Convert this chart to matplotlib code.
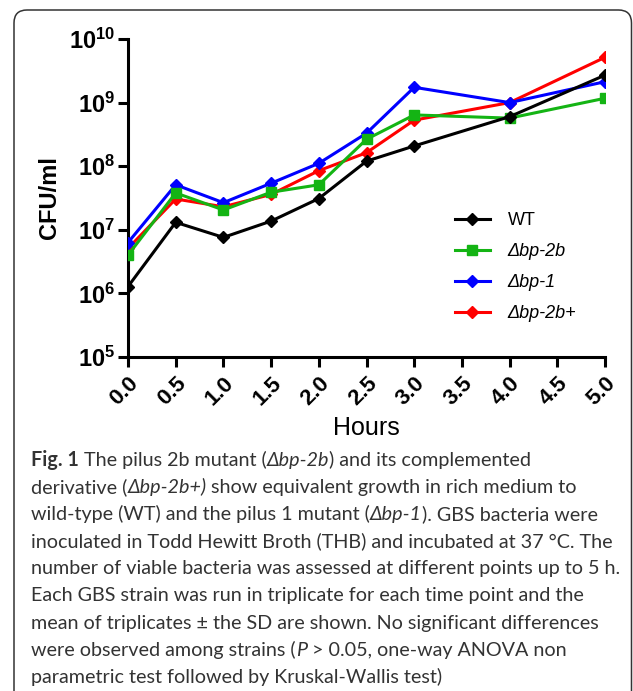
import numpy as np
import matplotlib
matplotlib.use('Agg')
import matplotlib.pyplot as plt
from matplotlib.patches import FancyBboxPatch
from matplotlib.transforms import IdentityTransform
from matplotlib.ticker import FixedLocator, FuncFormatter, NullLocator

# ---------- Data ----------

hours = [0.0, 0.5, 1.0, 1.5, 2.0, 2.5, 3.0, 4.0, 5.0]
wt = [1.28e6, 1.31e7, 7.6e6, 1.37e7, 3.1e7, 1.2e8, 2.08e8, 6.0e8, 2.7e9]
bp2b = [4.0e6, 3.8e7, 2.05e7, 3.9e7, 5.1e7, 2.65e8, 6.4e8, 5.7e8, 1.17e9]
bp1 = [6.3e6, 5.1e7, 2.67e7, 5.4e7, 1.11e8, 3.3e8, 1.74e9, 1.0e9, 2.13e9]
bp2b_plus = [5.1e6, 3.05e7, 2.3e7, 3.6e7, 8.5e7, 1.63e8, 5.3e8, 1.0e9, 5.15e9]

labels = ['WT', 'Δbp-2b', 'Δbp-1', 'Δbp-2b+']
x_ticks = [0.0, 0.5, 1.0, 1.5, 2.0, 2.5, 3.0, 3.5, 4.0, 4.5, 5.0]
y_ticks = [1e5, 1e6, 1e7, 1e8, 1e9, 1e10]

caption = [
    [("Fig. 1", 'b'), (" The pilus 2b mutant (", 'n'), ("Δbp-2b", 'i'), (") and its complemented", 'n')],
    [("derivative (", 'n'), ("Δbp-2b+)", 'i'), (" show equivalent growth in rich medium to", 'n')],
    [("wild-type (WT) and the pilus 1 mutant (", 'n'), ("Δbp-1", 'i'), ("). GBS bacteria were", 'n')],
    [("inoculated in Todd Hewitt Broth (THB) and incubated at 37 °C. The", 'n')],
    [("number of viable bacteria was assessed at different points up to 5 h.", 'n')],
    [("Each GBS strain was run in triplicate for each time point and the", 'n')],
    [("mean of triplicates ± the SD are shown. No significant differences", 'n')],
    [("were observed among strains (", 'n'), ("P", 'i'), (" > 0.05, one-way ANOVA non", 'n')],
    [("parametric test followed by Kruskal-Wallis test)", 'n')],
]

# ---------- Style ----------

plt.rcParams['font.family'] = ['Liberation Sans', 'DejaVu Sans']
plt.rcParams['mathtext.fontset'] = 'custom'
plt.rcParams['mathtext.rm'] = 'Liberation Sans'
plt.rcParams['mathtext.bf'] = 'Liberation Sans:bold'
plt.rcParams['mathtext.it'] = 'Liberation Sans:italic'

W, H = 633, 691
fig = plt.figure(figsize=(W / 100, H / 100), dpi=100)

# rounded frame around the figure + caption (open at the bottom)
frame = FancyBboxPatch((0.14, -0.5), 6.175, 6.81 + 0.5,
                       boxstyle='round,pad=0,rounding_size=0.13',
                       transform=fig.dpi_scale_trans, fill=False,
                       edgecolor='#333333', linewidth=1.1)
fig.add_artist(frame)

ax = fig.add_axes([128 / W, 1 - 357 / H, (605 - 128) / W, (357 - 39) / H])

lw = 2.2
ax.plot(hours, bp2b_plus, color='#ff0000', lw=lw, marker='D', ms=6.5, label=labels[3], zorder=3)
ax.plot(hours, bp1, color='#0000ff', lw=lw, marker='D', ms=6.5, label=labels[2], zorder=4)
ax.plot(hours, bp2b, color='#14b414', lw=lw, marker='s', ms=7.5, label=labels[1], zorder=5)
ax.plot(hours, wt, color='black', lw=lw, marker='D', ms=6.5, label=labels[0], zorder=6)

ax.set_yscale('log')
ax.set_ylim(1e5, 1e10)
ax.set_xlim(0, 5)
ax.yaxis.set_major_locator(FixedLocator(y_ticks))
ax.yaxis.set_minor_locator(NullLocator())
ax.yaxis.set_major_formatter(FuncFormatter(lambda v, p: r'$\mathbf{10^{%d}}$' % round(np.log10(v))))
ax.set_xticks(x_ticks)
ax.set_xticklabels(['%.1f' % t for t in x_ticks], rotation=45, ha='right', va='top',
                   rotation_mode='anchor', fontweight='bold')

for s in ['top', 'right']:
    ax.spines[s].set_visible(False)
for s in ['left', 'bottom']:
    ax.spines[s].set_linewidth(lw)
ax.tick_params(direction='out', length=7, width=lw, pad=2)
ax.tick_params(axis='y', labelsize=17)
ax.tick_params(axis='x', labelsize=16, pad=4)
for t in ax.get_yticklabels():
    t.set_fontweight('bold')

ax.set_ylabel('CFU/ml', fontsize=17, fontweight='bold')
ax.yaxis.set_label_coords(-0.14, 0.5)
ax.set_xlabel('Hours', fontsize=18)
ax.xaxis.set_label_coords(0.5, -0.185)

handles, labs = ax.get_legend_handles_labels()
order = [3, 2, 1, 0]
leg = ax.legend([handles[i] for i in order], [labs[i] for i in order],
                loc='center left', bbox_to_anchor=(0.686, 0.283), frameon=False,
                fontsize=13, handlelength=1.9, handletextpad=1.0, labelspacing=0.78,
                borderpad=0, borderaxespad=0)
for t in leg.get_texts()[1:]:
    t.set_style('italic')

# ---------- Caption with mixed styles ----------

renderer = fig.canvas.get_renderer()
cap_font = 'Lato'
cap_color = '#333333'
styles = {'n': dict(), 'b': dict(fontweight='bold'), 'i': dict(style='italic')}


def text_width(s, size, st):
    # bracket the string so leading/trailing spaces are counted
    t1 = fig.text(0, 0, '|' + s + '|', fontsize=size, family=cap_font, **styles[st])
    t2 = fig.text(0, 0, '||', fontsize=size, family=cap_font, **styles[st])
    w = t1.get_window_extent(renderer).width - t2.get_window_extent(renderer).width
    t1.remove()
    t2.remove()
    return w


# fit the font size so the longest line spans the caption width
ref_w = text_width(caption[4][0][0], 10, 'n')
cap_size = 10 * (623 - 31) / ref_w

x0, y0, dy = 31, 466, 27.1
for i, line in enumerate(caption):
    x = x0
    y = H - (y0 + i * dy)
    for s, st in line:
        fig.text(x, y, s, fontsize=cap_size, family=cap_font, color=cap_color,
                 va='baseline', ha='left', transform=IdentityTransform(), **styles[st])
        x += text_width(s, cap_size, st)

fig.savefig('out.png', dpi=100)
